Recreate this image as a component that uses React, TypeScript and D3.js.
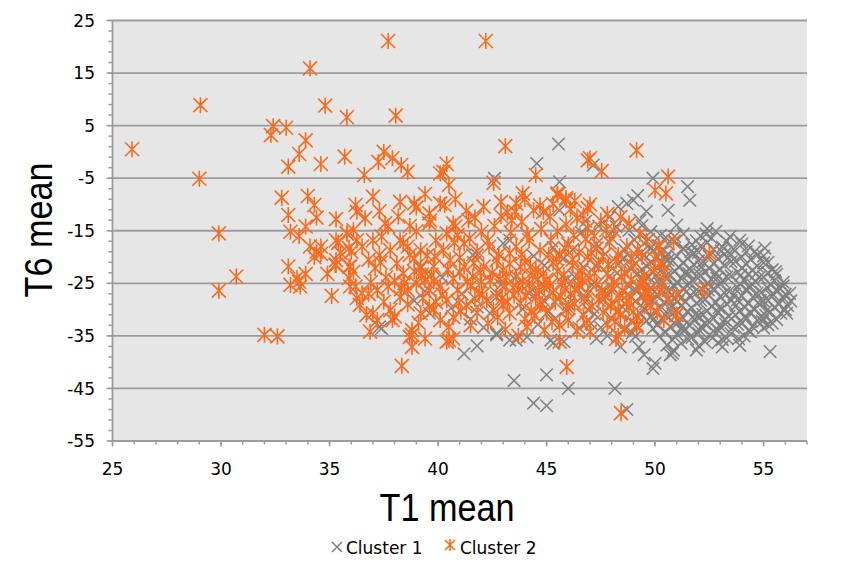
import React from 'react';
import * as d3 from 'd3';

// cluster 1 (grey x) : [T1 mean, T6 mean]
const cluster1: number[][] = [
  [37.3, -33.3], [41.2, -38.4], [41.8, -36.9], [43.5, -43.5], [45.0, -42.4], [44.4, -47.8], [45.0, -48.3],
  [46.0, -45.0], [48.15, -45.0], [48.7, -49.0], [49.9, -41.2], [50.0, -40.2], [50.7, -38.6], [50.85, -37.7],
  [49.5, -38.6], [51.9, -37.7], [53.1, -37.1], [48.4, -37.1], [47.3, -35.5], [45.8, -36.1], [45.3, -36.4],
  [43.6, -35.8], [42.7, -34.8], [55.3, -38.0], [50.8, -38.3], [42.6, -5.05], [44.55, -2.2], [45.55, 1.5],
  [45.6, -5.7], [45.6, -11.1], [47.15, -2.5], [49.9, -5.0], [51.5, -6.6], [51.6, -9.2], [50.6, -11.1],
  [49.0, -9.2], [48.3, -10.4], [51.0, -13.9], [52.4, -14.6], [53.45, -16.1], [55.06, -18.3], [53.9, -16.8],
  [56.06, -30.7], [41.8, -19.6], [39.2, -22.1], [39.6, -30.7], [37.4, -33.6], [43.0, -17.4], [43.3, -16.8],
  [44.2, -26.9], [44.5, -26.9], [44.85, -28.2], [42.7, -34.5], [43.3, -35.8], [44.1, -35.2], [45.2, -35.8],
  [41.6, -19.6], [42.7, -27.6], [42.4, -30.7], [41.8, -29.5],
  [46.2, -18.6], [46.7, -21.9], [47.1, -25.3], [47.6, -28.2], [48.0, -31.6], [48.4, -21.0], [48.8, -25.6],
  [49.1, -28.4], [47.9, -23.7], [46.4, -26.4], [45.9, -24.4], [46.9, -30.0], [47.3, -17.5], [48.6, -18.7],
  [45.5, -27.9], [45.1, -30.3], [44.6, -32.8], [46.5, -33.5], [47.8, -35.0], [48.9, -32.2], [43.9, -29.9],
  [43.5, -24.0], [42.9, -25.3], [41.1, -27.0], [40.6, -29.7], [39.4, -26.5], [38.9, -28.3], [40.2, -23.9],
  [41.5, -31.8], [42.1, -33.4], [46.8, -13.2], [47.9, -12.4], [49.4, -14.0], [48.2, -14.2], [44.4, -19.8],
  [45.3, -18.2], [49.2, -8.3], [48.7, -9.8],
  [45.8, -20.2], [46.3, -23.8], [46.8, -27.6], [47.2, -30.8], [47.7, -19.4], [48.1, -26.1], [48.5, -29.5],
  [48.9, -22.3], [46.0, -29.0], [47.5, -33.4], [48.6, -33.9], [49.1, -35.1], [45.4, -31.7], [44.9, -21.6],
  [46.6, -15.3], [47.4, -14.1], [48.0, -16.4], [49.3, -13.0], [49.6, -11.3], [48.8, -14.9],
  [49.8, -15.2], [50.5, -16.3], [51.3, -15.6], [52.1, -16.0], [52.8, -15.1], [53.3, -17.0],
  [49.5, -17.4], [50.2, -17.9], [50.9, -17.0], [51.7, -17.6], [52.4, -17.2], [53.1, -18.1], [54.0, -17.5], [54.6, -18.9],
  [49.9, -18.8], [50.6, -19.4], [51.3, -18.5], [52.0, -19.1], [52.7, -18.6], [53.5, -19.5], [54.2, -19.0], [55.0, -19.8],
  [49.3, -20.4], [50.1, -20.0], [50.8, -20.7], [51.5, -20.2], [52.2, -20.9], [52.9, -20.3], [53.7, -20.8], [54.4, -20.4], [55.2, -21.0],
  [49.6, -21.7], [50.4, -21.3], [51.1, -22.0], [51.8, -21.5], [52.5, -22.2], [53.2, -21.6], [54.0, -22.1], [54.7, -21.7], [55.4, -22.4],
  [49.2, -23.1], [49.9, -22.8], [50.7, -23.4], [51.4, -22.9], [52.1, -23.5], [52.8, -23.0], [53.5, -23.6], [54.3, -23.2], [55.0, -23.8], [55.6, -23.3],
  [49.5, -24.6], [50.2, -24.2], [51.0, -24.9], [51.7, -24.4], [52.4, -25.0], [53.1, -24.5], [53.9, -25.1], [54.6, -24.6], [55.3, -25.2], [55.9, -24.8],
  [49.1, -26.2], [49.8, -25.8], [50.6, -26.4], [51.3, -25.9], [52.0, -26.5], [52.7, -26.0], [53.4, -26.6], [54.2, -26.1], [54.9, -26.7], [55.6, -26.2], [56.2, -26.9],
  [49.4, -27.6], [50.1, -27.2], [50.9, -27.9], [51.6, -27.4], [52.3, -28.0], [53.0, -27.5], [53.8, -28.1], [54.5, -27.6], [55.2, -28.2], [55.9, -27.8],
  [49.7, -29.1], [50.4, -28.7], [51.2, -29.3], [51.9, -28.8], [52.6, -29.4], [53.3, -28.9], [54.1, -29.5], [54.8, -29.0], [55.5, -29.6], [56.1, -29.2],
  [49.3, -30.6], [50.0, -30.2], [50.8, -30.8], [51.5, -30.3], [52.2, -30.9], [52.9, -30.4], [53.7, -31.0], [54.4, -30.5], [55.1, -31.1], [55.8, -30.7],
  [49.6, -32.1], [50.3, -31.7], [51.1, -32.3], [51.8, -31.8], [52.5, -32.4], [53.2, -31.9], [54.0, -32.5], [54.7, -32.0], [55.4, -32.6],
  [49.9, -33.6], [50.7, -33.2], [51.4, -33.8], [52.1, -33.3], [52.9, -33.9], [53.6, -33.4], [54.3, -34.0], [55.0, -33.5],
  [50.2, -35.1], [51.0, -34.7], [51.7, -35.3], [52.5, -34.8], [53.3, -35.4], [54.1, -35.0],
  [51.2, -36.4], [52.0, -36.9], [52.9, -36.3], [53.9, -36.8],
  [49.7, -16.6], [50.9, -16.1], [51.9, -16.9], [52.6, -16.4],
  [49.8, -18.2], [50.6, -17.5], [51.3, -18.3], [52.1, -17.9], [53.6, -18.5], [54.3, -17.9],
  [49.5, -19.6], [50.3, -19.1], [51.0, -19.8], [51.8, -19.3], [52.5, -19.9], [53.2, -19.5], [54.0, -20.0], [54.7, -19.6],
  [49.8, -21.0], [50.6, -20.6], [51.3, -21.2], [52.0, -20.7], [52.7, -21.3], [53.5, -20.9], [54.2, -21.4], [55.0, -21.1],
  [49.4, -22.4], [50.1, -22.1], [50.9, -22.6], [51.6, -22.2], [52.3, -22.8], [53.0, -22.3], [53.8, -22.9], [54.5, -22.5], [55.2, -23.0],
  [49.7, -23.8], [50.5, -23.6], [51.2, -24.1], [51.9, -23.7], [52.6, -24.3], [53.3, -23.8], [54.1, -24.4], [54.8, -23.9], [55.5, -24.5],
  [49.4, -25.3], [50.2, -25.0], [50.9, -25.6], [51.6, -25.1], [52.3, -25.7], [53.0, -25.2], [53.8, -25.8], [54.5, -25.3], [55.2, -25.9], [55.9, -25.5],
  [49.6, -26.8], [50.4, -26.6], [51.1, -27.1], [51.8, -26.7], [52.5, -27.3], [53.2, -26.8], [54.0, -27.4], [54.7, -26.9], [55.4, -27.5], [56.0, -27.1],
  [49.9, -28.4], [50.6, -28.1], [51.4, -28.6], [52.1, -28.2], [52.8, -28.7], [53.5, -28.3], [54.3, -28.9], [55.0, -28.4], [55.7, -29.0],
  [49.5, -29.8], [50.3, -29.6], [51.0, -30.1], [51.7, -29.7], [52.4, -30.2], [53.1, -29.8], [53.9, -30.3], [54.6, -29.9], [55.3, -30.4], [56.0, -30.0],
  [49.8, -31.4], [50.5, -31.1], [51.3, -31.6], [52.0, -31.2], [52.7, -31.7], [53.4, -31.3], [54.2, -31.8], [54.9, -31.4], [55.6, -31.9],
  [50.1, -32.9], [50.9, -32.6], [51.6, -33.1], [52.3, -32.7], [53.0, -33.2], [53.8, -32.8], [54.5, -33.3], [55.2, -32.9],
  [50.5, -34.3], [51.3, -34.0], [52.0, -34.5], [52.7, -34.1], [53.5, -34.6], [54.4, -34.2],
  [50.8, -35.8], [51.5, -35.6], [52.3, -36.1], [53.1, -35.7],
  [50.35, -24.9], [51.45, -26.55], [52.85, -24.05], [53.65, -27.05], [54.35, -25.85], [51.85, -30.95], [53.25, -32.75],
  [50.75, -29.45], [52.15, -21.85], [53.95, -23.45], [54.85, -28.25], [55.45, -27.15], [50.05, -23.45], [51.55, -23.15],
  [52.95, -29.65], [54.15, -31.25], [51.25, -33.35], [52.65, -35.35], [50.45, -20.35], [53.35, -20.15], [49.65, -27.95],
  [55.75, -25.95], [55.15, -30.15], [49.95, -31.75], [52.45, -26.25], [51.05, -28.45], [53.75, -29.15], [54.65, -23.15],
  [50.85, -25.45], [52.05, -33.95], [54.95, -32.25], [53.05, -18.85], [51.65, -18.95], [50.25, -15.85], [52.35, -15.65],
  [49.35, -19.25], [55.55, -22.75], [56.25, -28.35], [53.85, -35.55], [50.55, -36.75], [49.05, -16.75], [48.55, -20.15],
  [48.25, -23.05], [48.75, -27.05], [48.45, -30.85], [47.65, -26.45], [47.25, -21.65], [48.95, -34.45], [49.25, -37.15],
  [47.05, -32.65],
];

// cluster 2 (orange star)
const cluster2: number[][] = [
  [25.9, 0.5], [29.05, 8.9], [29.0, -5.1], [29.9, -15.5], [30.7, -23.7], [29.9, -26.4], [32.0, -34.8], [32.6, -35.1],
  [34.1, 15.9], [34.8, 8.8], [35.8, 6.6], [32.4, 4.9], [32.3, 3.2], [33.0, 4.6], [33.9, 2.2], [33.6, -0.4],
  [33.1, -2.8], [34.6, -2.3], [35.7, -0.9], [32.8, -8.7], [34.0, -8.4], [34.3, -10.1], [33.1, -12.0], [34.4, -12.5],
  [35.3, -12.8], [33.2, -15.2], [33.6, -16.0], [33.9, -14.2], [35.8, -15.5], [34.1, -18.0], [34.6, -18.0], [34.4, -19.0],
  [34.3, -20.0], [35.4, -17.3], [35.9, -18.3], [35.9, -21.8], [35.3, -21.5], [33.1, -21.8], [33.9, -23.2], [33.2, -25.3],
  [33.6, -24.7], [33.65, -25.6], [33.5, -24.0], [35.95, -25.6],
  [37.7, 21.1], [42.2, 21.1], [38.05, 6.9], [43.1, 1.1], [37.5, 0.0], [37.25, -1.9], [37.9, -1.2], [38.3, -2.5],
  [38.6, -3.8], [36.6, -4.4], [40.4, -2.3], [40.1, -4.1], [40.25, -3.8], [40.5, -6.3], [42.56, -5.9], [44.5, -4.4],
  [43.9, -7.9], [43.6, -9.8], [45.5, -8.2], [45.9, -8.8], [46.9, -1.6], [37.0, -8.5], [36.2, -10.1], [38.25, -9.5],
  [38.9, -9.8], [40.3, -10.1], [39.6, -11.7], [49.15, 0.3], [47.0, -1.2], [47.54, -3.65], [50.6, -4.7], [50.0, -7.3],
  [50.5, -7.9], [46.9, -10.7], [45.5, -7.9], [45.9, -9.2], [48.8, -13.6], [50.85, -17.1], [50.15, -18.0], [52.5, -19.3],
  [52.2, -26.3], [51.0, -27.2], [51.0, -31.0], [48.43, -49.7], [45.93, -40.9], [38.33, -40.7], [36.87, -34.2],
  [38.8, -37.1], [38.7, -35.2], [40.4, -36.1], [40.7, -35.5], [45.6, -36.1], [48.2, -35.6], [47.0, -34.2], [44.9, -33.9],
  [50.97, -31.0], [49.15, -33.3],
  [36.26, -11.4], [36.64, -12.6], [37.56, -13.6], [38.17, -12.3], [39.63, -13.0], [40.7, -13.6], [41.4, -13.0],
  [42.0, -15.2], [43.55, -11.4], [43.4, -13.0], [43.86, -13.3], [44.4, -11.1], [44.85, -11.4], [45.16, -12.3],
  [35.3, -16.8], [35.8, -15.5], [36.26, -16.8], [36.5, -18.0], [37.0, -16.8], [37.4, -16.1], [37.7, -14.2],
  [38.25, -16.8], [38.6, -18.0], [39.2, -18.7], [39.6, -13.6], [39.9, -16.8], [40.4, -15.5], [40.8, -14.2],
  [41.2, -17.4], [35.3, -20.6], [35.26, -21.5], [35.95, -21.8], [36.1, -22.8], [37.1, -22.1], [36.2, -25.6],
  [36.26, -27.8], [36.5, -26.9], [36.4, -29.1], [37.0, -30.7], [37.8, -30.1], [37.9, -32.0], [38.8, -34.8],
  [40.5, -35.8], [37.8, -18.7], [38.1, -21.2], [38.4, -23.1], [38.7, -19.6], [39.2, -21.8], [39.4, -24.4],
  [39.8, -21.8], [40.25, -18.7], [40.55, -20.6], [37.7, -25.6], [38.25, -27.6], [38.6, -26.3], [39.0, -25.0],
  [39.6, -26.3], [40.1, -25.6], [40.4, -28.2], [40.9, -26.3], [41.5, -25.6], [41.9, -26.9], [42.25, -28.2],
  [42.7, -26.9], [43.1, -25.6], [42.55, -30.1], [39.6, -29.5], [39.2, -30.7], [40.1, -32.0], [40.7, -31.4],
  [40.5, -33.3], [38.8, -33.9], [37.2, -32.0], [41.2, -21.8], [41.6, -23.7], [42.1, -21.8], [42.4, -24.4],
  [43.0, -22.5], [43.3, -19.3], [43.6, -18.0], [44.2, -16.8], [44.7, -18.7], [45.2, -16.8], [43.6, -23.7],
  [44.2, -25.0], [44.85, -23.1], [44.5, -27.6], [43.8, -28.8], [43.3, -30.7], [45.0, -30.7], [44.1, -33.3],
  [45.9, -13.8], [46.4, -12.6], [46.9, -14.5], [47.5, -13.1], [48.1, -15.0], [49.3, -15.6], [42.6, -14.1],
  [44.1, -15.7], [45.5, -15.1], [47.2, -16.0], [46.1, -10.9], [47.8, -11.8], [48.4, -12.4], [42.9, -12.2], [40.9, -15.8],
  [41.8, -18.9], [42.3, -16.9], [42.8, -19.5], [45.6, -19.8], [46.0, -17.6], [46.5, -19.1], [46.8, -16.6],
  [47.3, -18.4], [47.9, -17.2], [48.3, -19.6], [48.7, -17.9], [49.2, -18.6], [49.6, -16.9], [50.2, -18.0],
  [44.0, -20.9], [44.5, -22.3], [45.3, -21.1], [45.8, -23.4], [46.2, -20.5], [46.6, -22.6], [47.0, -24.0],
  [47.4, -21.4], [47.8, -23.1], [48.2, -20.8], [48.6, -22.9], [49.0, -21.6], [49.5, -23.5], [50.0, -20.4],
  [50.4, -22.7], [41.0, -20.1], [42.7, -20.6], [43.3, -21.3], [45.0, -24.3], [46.9, -20.0], [48.9, -24.4],
  [43.5, -27.3], [44.9, -25.9], [45.3, -26.8], [45.7, -24.8], [46.1, -27.0], [46.5, -25.5], [46.9, -26.9],
  [47.3, -25.2], [47.7, -27.4], [48.1, -24.9], [48.5, -26.4], [48.9, -27.7], [49.3, -25.7], [49.7, -26.9],
  [50.3, -25.2], [50.6, -27.8], [43.9, -24.6], [42.0, -24.8],
  [41.3, -29.2], [41.8, -30.6], [43.0, -29.0], [44.3, -30.2], [44.7, -29.1], [45.4, -28.6], [45.9, -30.0],
  [46.3, -28.9], [46.7, -31.1], [47.1, -29.4], [47.6, -30.5], [48.0, -28.7], [48.4, -31.0], [48.8, -29.6],
  [49.2, -31.5], [49.6, -28.8], [50.1, -30.4], [46.0, -32.0], [44.0, -31.8],
  [41.5, -33.0], [42.3, -32.6], [43.1, -33.8], [45.6, -33.0], [46.4, -34.1], [47.8, -32.8], [48.6, -33.5], [43.7, -35.0],
  [38.9, -20.3], [39.5, -19.7], [38.4, -17.4], [37.3, -19.6], [36.8, -20.5], [36.0, -19.0], [37.6, -23.9],
  [36.9, -24.8], [38.0, -24.5], [38.9, -22.7], [39.7, -23.4], [39.3, -27.8], [38.6, -29.0], [37.5, -28.5],
  [36.8, -27.0], [38.0, -31.3], [39.8, -30.0], [39.1, -32.5], [39.4, -35.5], [39.9, -28.6], [37.2, -26.3],
  [36.7, -31.0], [38.3, -26.1], [39.0, -15.1], [38.7, -14.1], [37.3, -11.3], [36.1, -14.9], [35.9, -24.0],
  [35.5, -19.2], [34.9, -23.2], [34.6, -19.4], [35.1, -27.4],
  [39.4, -8.0], [40.1, -9.8], [40.8, -9.0], [41.3, -11.2], [42.1, -10.4], [42.9, -9.5], [41.7, -12.5],
  [39.0, -10.6], [44.0, -9.0], [44.7, -10.2], [45.3, -9.9], [43.2, -11.5], [46.3, -9.3], [47.0, -10.0], [46.7, -12.1],
  [50.3, -21.2], [50.2, -26.6], [49.15, -32.9], [48.3, -35.0], [49.4, -20.0], [49.7, -26.3],
  [43.7, -26.1], [44.6, -24.2], [45.5, -22.7], [46.3, -26.2], [47.2, -23.0], [48.0, -25.8], [48.7, -28.3],
  [49.4, -24.6], [43.2, -28.5], [44.8, -28.9], [46.0, -29.7], [47.4, -28.1], [48.3, -30.1], [45.1, -19.6],
  [46.2, -21.6], [47.6, -19.9], [48.9, -20.3], [43.8, -21.9], [42.5, -23.0], [41.7, -27.9], [40.7, -24.1],
  [40.2, -27.1], [41.0, -22.9], [39.8, -24.6], [49.8, -29.5], [50.4, -32.0], [49.0, -30.4],
  [40.45, -22.35], [41.35, -24.65], [41.95, -22.95], [42.85, -24.15], [43.45, -25.85], [44.05, -27.25], [44.35, -23.55],
  [45.15, -25.45], [45.85, -26.05], [46.65, -24.35], [47.55, -26.35], [48.35, -27.85], [40.95, -28.75], [42.05, -27.15],
  [42.95, -27.85], [44.65, -26.35], [45.65, -27.45], [46.75, -28.45], [47.95, -29.35], [41.65, -21.15], [43.15, -23.75],
  [44.25, -21.85], [45.45, -20.35], [46.45, -23.75], [47.85, -21.45], [48.45, -23.85], [43.85, -19.55], [45.85, -18.35],
  [47.05, -19.15], [42.35, -18.05], [41.45, -16.45], [39.85, -19.85], [40.75, -17.25], [44.75, -14.65], [46.25, -15.85],
  [47.75, -14.85], [43.35, -15.35], [41.05, -30.35], [42.75, -31.45], [44.45, -31.15], [45.25, -32.35], [46.85, -32.55],
  [48.15, -32.35], [49.45, -27.35], [49.95, -22.35], [39.25, -23.35], [38.45, -24.95], [37.35, -21.05],
];

const xTicks = [25, 30, 35, 40, 45, 50, 55];
const yTicks = [25, 15, 5, -5, -15, -25, -35, -45, -55];
const seriesNames = ['Cluster 1', 'Cluster 2'];

const GREY = '#7f7f7f';
const ORANGE = '#fb6b1d';
const GRID = '#9c9c9c';
const FONT = '"DejaVu Sans", Verdana, sans-serif';
const TITLE_FONT = '"Liberation Sans", Arial, sans-serif';

const crossPath = 'M-6.3,-6.3L6.3,6.3M-6.3,6.3L6.3,-6.3';
const starPath = 'M-7,-7L7,7M-7,7L7,-7M0,-8L0,8';

export default function App() {
  const left = 112.5, right = 807, top = 20.5, bottom = 441;
  const x = d3.scaleLinear().domain([25, 57]).range([left, right]);
  const y = d3.scaleLinear().domain([-55, 25]).range([bottom, top]);
  const xMinor = d3.range(25, 58, 1);
  const yMinor = d3.range(-55, 26, 2);

  return (
    <svg width={862} height={583} style={{ position: 'absolute', left: 0, top: 0, background: '#fff' }}>
      <rect x={left} y={top} width={right - left} height={bottom - top} fill="#e6e6e6" />
      {yTicks.map((t) => (
        <line key={'g' + t} x1={left} x2={right} y1={y(t)} y2={y(t)} stroke={GRID} strokeWidth={1.8} />
      ))}
      {/* axes */}
      <line x1={left} x2={left} y1={top} y2={bottom} stroke={GRID} strokeWidth={1.8} />
      <line x1={left} x2={right} y1={bottom} y2={bottom} stroke={GRID} strokeWidth={1.8} />
      {yMinor.map((t) => (
        <line key={'ym' + t} x1={left - 4} x2={left} y1={y(t)} y2={y(t)} stroke={GRID} strokeWidth={1.5} />
      ))}
      {yTicks.map((t) => (
        <line key={'yt' + t} x1={left - 6} x2={left} y1={y(t)} y2={y(t)} stroke={GRID} strokeWidth={1.5} />
      ))}
      {xMinor.map((t) => (
        <line key={'xm' + t} x1={x(t)} x2={x(t)} y1={bottom} y2={bottom + 3.5} stroke={GRID} strokeWidth={1.5} />
      ))}
      {xTicks.map((t) => (
        <line key={'xt' + t} x1={x(t)} x2={x(t)} y1={bottom} y2={bottom + 5.5} stroke={GRID} strokeWidth={1.5} />
      ))}
      {yTicks.map((t) => (
        <text key={'yl' + t} x={95} y={y(t)} dy="0.36em" textAnchor="end" fontFamily={FONT} fontSize={17} fill="#000">
          {t}
        </text>
      ))}
      {xTicks.map((t) => (
        <text key={'xl' + t} x={x(t)} y={475} textAnchor="middle" fontFamily={FONT} fontSize={17} fill="#000">
          {t}
        </text>
      ))}
      <g>
        {cluster1.map((d, i) => (
          <path key={'c1' + i} d={crossPath} transform={`translate(${x(d[0])},${y(d[1])})`} stroke={GREY} strokeWidth={1.5} fill="none" />
        ))}
      </g>
      <g>
        {cluster2.map((d, i) => (
          <path key={'c2' + i} d={starPath} transform={`translate(${x(d[0])},${y(d[1])})`} stroke={ORANGE} strokeWidth={1.6} fill="none" />
        ))}
      </g>
      <text x={447} y={521} textAnchor="middle" fontFamily={TITLE_FONT} fontSize={38} textLength={135} lengthAdjust="spacingAndGlyphs" fill="#000">
        T1 mean
      </text>
      <text transform={`translate(52,230) rotate(-90)`} textAnchor="middle" fontFamily={TITLE_FONT} fontSize={38} textLength={135} lengthAdjust="spacingAndGlyphs" fill="#000">
        T6 mean
      </text>
      {/* legend */}
      <path d="M-5,-5L5,5M-5,5L5,-5" transform="translate(337,547)" stroke={GREY} strokeWidth={1.5} fill="none" />
      <text x={346} y={554} fontFamily={FONT} fontSize={17} fill="#000">{seriesNames[0]}</text>
      <path d="M-5,-5L5,5M-5,5L5,-5M0,-6L0,6" transform="translate(450,545)" stroke={ORANGE} strokeWidth={1.6} fill="none" />
      <text x={460} y={554} fontFamily={FONT} fontSize={17} fill="#000">{seriesNames[1]}</text>
    </svg>
  );
}
